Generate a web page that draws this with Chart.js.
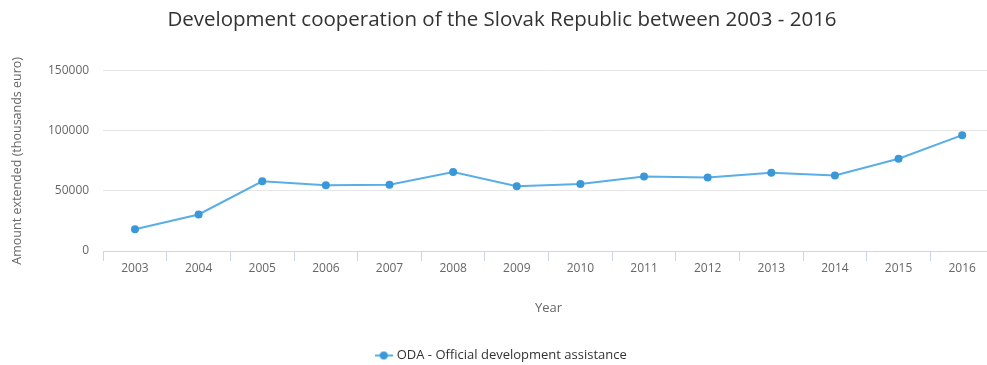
<!DOCTYPE html>
<html>
<head>
<meta charset="utf-8">
<script src="https://cdn.jsdelivr.net/npm/chart.js@4"></script>
<style>
  html, body { margin: 0; padding: 0; background: #fff; overflow: hidden; }
  #wrap { width: 998px; height: 372px; position: relative; }
</style>
</head>
<body>
<div id="wrap"><canvas id="odaChart"></canvas></div>
<script>
const years = ["2003", "2004", "2005", "2006", "2007", "2008", "2009", "2010", "2011", "2012", "2013", "2014", "2015", "2016"];
const odaValues = [18100, 30400, 57900, 54600, 55100, 65600, 53900, 55800, 62000, 61200, 65000, 62800, 76700, 96300];
const yTicks = [0, 50000, 100000, 150000];

const lineColor = '#5aaee6';
const pointColor = '#3a98d9';

// legend symbol: short line with a dot, like the original
function legendSymbol() {
    const c = document.createElement('canvas');
    c.width = 18; c.height = 10;
    const g = c.getContext('2d');
    g.strokeStyle = lineColor;
    g.lineWidth = 2;
    g.beginPath(); g.moveTo(0, 5); g.lineTo(18, 5); g.stroke();
    g.fillStyle = pointColor;
    g.beginPath(); g.arc(9, 5, 4, 0, Math.PI * 2); g.fill();
    return c;
}

const ctx = document.getElementById('odaChart').getContext('2d');
new Chart(ctx, {
    type: 'line',
    data: {
        labels: years,
        datasets: [{
            label: 'ODA - Official development assistance',
            data: odaValues,
            borderColor: lineColor,
            backgroundColor: pointColor,
            pointBackgroundColor: pointColor,
            pointBorderWidth: 0,
            pointRadius: 4,
            borderWidth: 2,
            tension: 0,
            fill: false
        }]
    },
    options: {
        responsive: true,
        maintainAspectRatio: false,
        animation: false,
        layout: { padding: { left: 6, right: 0, top: 6, bottom: 0 } },
        plugins: {
            title: {
                display: true,
                text: 'Development cooperation of the Slovak Republic between 2003 - 2016',
                color: '#333333',
                font: { family: 'Open Sans', size: 20.5, weight: 'normal' },
                padding: { top: 2, bottom: 38 }
            },
            legend: {
                position: 'bottom',
                labels: {
                    color: '#333333',
                    font: { family: 'Open Sans', size: 13 },
                    usePointStyle: true,
                    padding: 0,
                    generateLabels: chart => chart.data.datasets.map((ds, i) => ({
                        text: ds.label,
                        pointStyle: legendSymbol(),
                        datasetIndex: i,
                        fontColor: '#333333'
                    }))
                }
            },
            tooltip: { enabled: false }
        },
        scales: {
            x: {
                offset: true,
                grid: {
                    offset: true,
                    drawOnChartArea: false,
                    drawTicks: true,
                    tickLength: 10,
                    color: '#ccd6eb'
                },
                border: { color: '#ccd6eb' },
                ticks: {
                    color: '#666666',
                    font: { family: 'Open Sans', size: 12 },
                    padding: 0,
                    maxRotation: 0
                },
                title: {
                    display: true,
                    text: 'Year',
                    color: '#666666',
                    font: { family: 'Open Sans', size: 13 },
                    padding: { top: 25, bottom: 33 }
                }
            },
            y: {
                min: 0,
                max: 150000,
                afterBuildTicks: axis => { axis.ticks = yTicks.map(v => ({ value: v })); },
                grid: { color: '#e6e6e6', drawTicks: false },
                border: { display: false },
                ticks: {
                    color: '#666666',
                    font: { family: 'Open Sans', size: 12 },
                    padding: 14,
                    callback: v => String(v)
                },
                title: {
                    display: true,
                    text: 'Amount extended (thousands euro)',
                    color: '#666666',
                    font: { family: 'Open Sans', size: 12.5 },
                    padding: { top: 4, bottom: 9 }
                }
            }
        }
    }
});
</script>
</body>
</html>
